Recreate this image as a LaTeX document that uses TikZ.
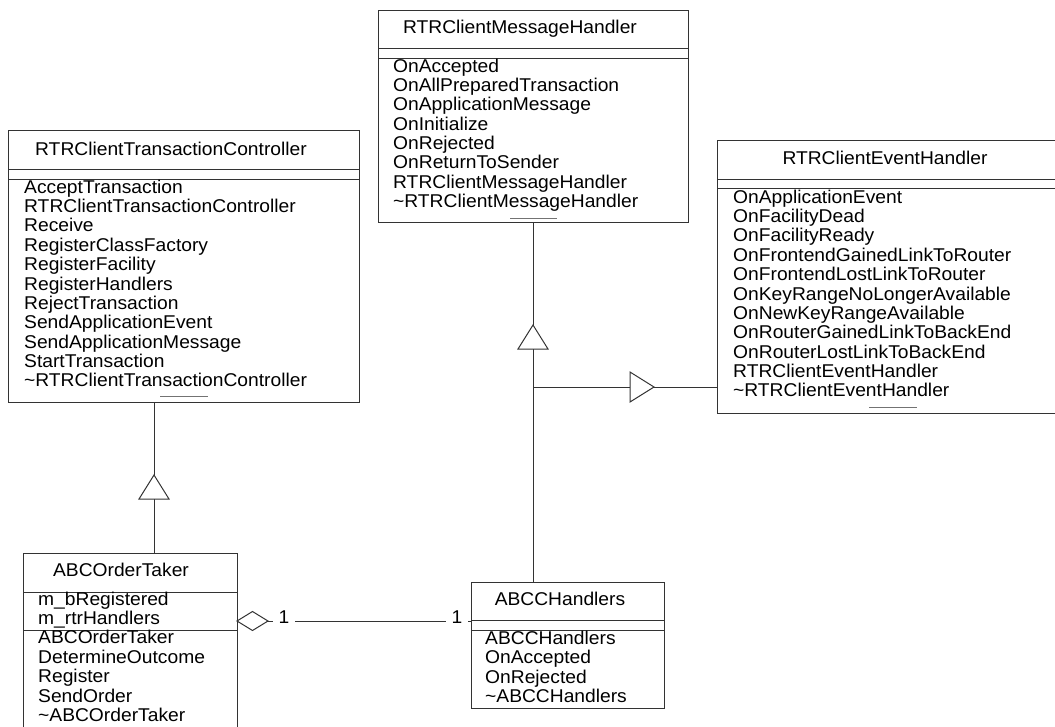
\documentclass[tikz,border=0pt]{standalone}
\usepackage{fontspec}
\setmainfont{Liberation Sans}[FakeStretch=1.04]
\usetikzlibrary{shapes.geometric}
\definecolor{linec}{gray}{0.2}
\definecolor{markc}{gray}{0.45}
\newcommand{\umlfont}{\fontsize{18.5}{19.4}\selectfont}
\begin{document}
\begin{tikzpicture}[x=1pt,y=-1pt,
  box/.style={draw=linec,line width=1pt,inner sep=0,outer sep=0,anchor=north west},
  ttl/.style={font=\umlfont,anchor=base,inner sep=0},
  itm/.style={font=\umlfont,anchor=base west,inner sep=0},
  sep/.style={draw=linec,line width=1pt},
  opmark/.style={draw=markc,line width=1pt},
  conn/.style={draw=linec,line width=1pt},
  gen/.style={draw=linec,line width=1pt,fill=white},
  mult/.style={font=\umlfont,fill=white,inner xsep=6pt,inner ysep=1pt,anchor=base},
  agg/.style={draw=linec,line width=1pt,diamond,minimum width=31pt,minimum height=19pt,inner sep=0,outer sep=0,anchor=west,fill=white}
]
\useasboundingbox (0,0) rectangle (1055,726);

% ---------- RTRClientMessageHandler ----------
\node[box,minimum width=310pt,minimum height=212pt] (mh) at (378,10) {};
\draw[sep] (378,48) -- (688,48);
\draw[sep] (378,58) -- (688,58);
\node[ttl] (mhT) at (520,33.3) {RTRClientMessageHandler};
\foreach \t [count=\i] in {OnAccepted,OnAllPreparedTransaction,OnApplicationMessage,OnInitialize,OnRejected,OnReturnToSender,RTRClientMessageHandler,\textasciitilde RTRClientMessageHandler}
  \node[itm] (mh\i) at (393,{72+19.36*(\i-1)}) {\t};
\draw[opmark] (510,218) -- (557,218);

% ---------- RTRClientTransactionController ----------
\node[box,minimum width=351pt,minimum height=272pt] (tc) at (8,130) {};
\draw[sep] (8,169) -- (359,169);
\draw[sep] (8,179) -- (359,179);
\node[ttl] (tcT) at (171,155) {RTRClientTransactionController};
\foreach \t [count=\i] in {AcceptTransaction,RTRClientTransactionController,Receive,RegisterClassFactory,RegisterFacility,RegisterHandlers,RejectTransaction,SendApplicationEvent,SendApplicationMessage,StartTransaction,\textasciitilde RTRClientTransactionController}
  \node[itm] (tc\i) at (24,{193.3+19.34*(\i-1)}) {\t};
\draw[opmark] (160,396) -- (208,396);

% ---------- RTRClientEventHandler ----------
\node[box,minimum width=360pt,minimum height=273pt] (eh) at (717,140) {};
\draw[sep] (717,179) -- (1077,179);
\draw[sep] (717,188) -- (1077,188);
\node[ttl] (ehT) at (885,164.3) {RTRClientEventHandler};
\foreach \t [count=\i] in {OnApplicationEvent,OnFacilityDead,OnFacilityReady,OnFrontendGainedLinkToRouter,OnFrontendLostLinkToRouter,OnKeyRangeNoLongerAvailable,OnNewKeyRangeAvailable,OnRouterGainedLinkToBackEnd,OnRouterLostLinkToBackEnd,RTRClientEventHandler,\textasciitilde RTRClientEventHandler}
  \node[itm] (eh\i) at (733,{203.3+19.34*(\i-1)}) {\t};
\draw[opmark] (869,407) -- (917,407);

% ---------- ABCOrderTaker ----------
\node[box,minimum width=214pt,minimum height=200pt] (ot) at (23,553) {};
\draw[sep] (23,592) -- (237,592);
\draw[sep] (23,630) -- (237,630);
\node[ttl] (otT) at (121,576) {ABCOrderTaker};
\foreach \t [count=\i] in {m\_bRegistered,m\_rtrHandlers,ABCOrderTaker,DetermineOutcome,Register,SendOrder,\textasciitilde ABCOrderTaker}
  \node[itm] (ot\i) at (38,{605+19.45*(\i-1)}) {\t};

% ---------- ABCCHandlers ----------
\node[box,minimum width=193pt,minimum height=126pt] (ch) at (471,582) {};
\draw[sep] (471,620) -- (664,620);
\draw[sep] (471,630) -- (664,630);
\node[ttl] (chT) at (560,605) {ABCCHandlers};
\foreach \t [count=\i] in {ABCCHandlers,OnAccepted,OnRejected,\textasciitilde ABCCHandlers}
  \node[itm] (ch\i) at (485,{644.3+19.45*(\i-1)}) {\t};

% ---------- generalisations ----------
\coordinate (lx) at (154,0);
\coordinate (cx) at (533,0);
\coordinate (jy) at (0,387);
\draw[conn] (ot.north -| lx) -- (tc.south -| lx);
\draw[gen] (139,499) -- (154,475) -- (169,499) -- cycle;

\draw[conn] (ch.north -| cx) -- (mh.south -| cx);
\draw[gen] (518,349) -- (533,325) -- (548,349) -- cycle;

\coordinate (jn) at (cx |- jy);
\draw[conn] (ch.north -| cx) -- (jn) -- (eh.west |- jy);
\draw[gen] (630,372) -- (654,387) -- (630,402) -- cycle;

% ---------- aggregation ----------
\node[agg] (dia) at (237,621) {};
\draw[conn] (dia.east) -- (ch.west |- dia.east);
\node[mult] (m1) at (284,623) {1};
\node[mult] (m2) at (457,623) {1};
\end{tikzpicture}
\end{document}
